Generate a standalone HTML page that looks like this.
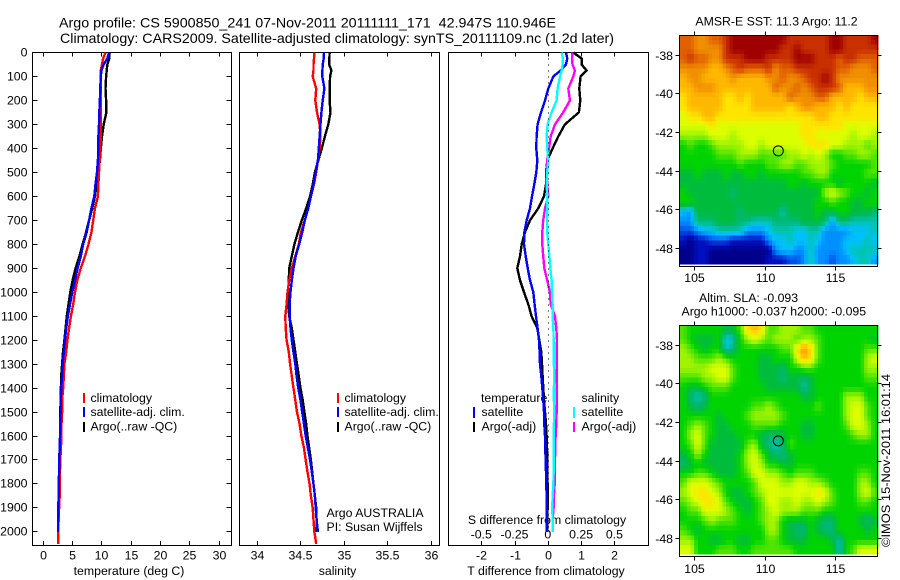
<!DOCTYPE html>
<html lang="en">
<head>
<meta charset="utf-8">
<title>Argo profile 5900850_241</title>
<style>
html,body{margin:0;padding:0;background:#fff;width:900px;height:580px;overflow:hidden}
svg{display:block;position:absolute;left:0;top:0}
text{font-family:"Liberation Sans",sans-serif;font-size:12.3px;fill:#000}
text.title{font-size:14px}
.frame{fill:none;stroke:#000;stroke-width:1;shape-rendering:crispEdges}
.crisp{shape-rendering:crispEdges}
</style>
</head>
<body>
<svg id="chart" width="900" height="580" viewBox="0 0 900 580" xmlns="http://www.w3.org/2000/svg">
  <text class="title" x="59" y="27.5" textLength="497" lengthAdjust="spacingAndGlyphs">Argo profile: CS 5900850_241 07-Nov-2011 20111111_171&#160; 42.947S 110.946E</text>
  <text class="title" x="60" y="43" textLength="554" lengthAdjust="spacingAndGlyphs">Climatology: CARS2009. Satellite-adjusted climatology: synTS_20111109.nc (1.2d later)</text>

  <g id="maps"></g>
  <g id="axes"></g>

  <rect class="frame" x="32.5" y="52.5" width="199" height="493"/>
  <rect class="frame" x="239.5" y="52.5" width="200" height="493"/>
  <rect class="frame" x="448.5" y="52.5" width="200" height="493"/>
  <rect class="frame" x="679.5" y="35.5" width="198" height="231"/>
  <rect class="frame" x="679.5" y="325.5" width="198" height="231"/>

  <text x="129" y="575" text-anchor="middle">temperature (deg C)</text>
  <text x="337.5" y="575" text-anchor="middle">salinity</text>
  <text x="546" y="575" text-anchor="middle">T difference from climatology</text>
  <text x="547" y="524" text-anchor="middle">S difference from climatology</text>

  <g>
    <rect class="crisp" x="83" y="393" width="2" height="10" fill="#f00"/>
    <rect class="crisp" x="83" y="407" width="2" height="10" fill="#00f"/>
    <rect class="crisp" x="83" y="422" width="2" height="10" fill="#000"/>
    <text x="90.5" y="402">climatology</text>
    <text x="90.5" y="416">satellite-adj. clim.</text>
    <text x="90.5" y="430.5">Argo(..raw -QC)</text>
  </g>
  <g>
    <rect class="crisp" x="337" y="393" width="2" height="10" fill="#f00"/>
    <rect class="crisp" x="337" y="407" width="2" height="10" fill="#00f"/>
    <rect class="crisp" x="337" y="422" width="2" height="10" fill="#000"/>
    <text x="344.5" y="402">climatology</text>
    <text x="344.5" y="416">satellite-adj. clim.</text>
    <text x="344.5" y="430.5">Argo(..raw -QC)</text>
    <text x="326.5" y="517">Argo AUSTRALIA</text>
    <text x="326.5" y="531">PI: Susan Wijffels</text>
  </g>
  <g>
    <text x="481" y="402">temperature</text>
    <rect class="crisp" x="473" y="407" width="2" height="11" fill="#00f"/>
    <text x="481.5" y="416">satellite</text>
    <rect class="crisp" x="473" y="422" width="2" height="10" fill="#000"/>
    <text x="481.5" y="430.5">Argo(-adj)</text>
    <text x="581.5" y="402">salinity</text>
    <rect class="crisp" x="573" y="407" width="2" height="11" fill="#0ff"/>
    <text x="581.5" y="416">satellite</text>
    <rect class="crisp" x="573" y="422" width="2" height="10" fill="#f0f"/>
    <text x="581.5" y="430.5">Argo(-adj)</text>
  </g>

  <text x="776.5" y="25.5" text-anchor="middle">AMSR-E SST: 11.3 Argo: 11.2</text>
  <text x="699" y="302">Altim. SLA: -0.093</text>
  <text x="681.5" y="315.5">Argo h1000: -0.037 h2000: -0.095</text>
  <text transform="translate(890,547) rotate(-90)" textLength="173" lengthAdjust="spacingAndGlyphs">©IMOS 15-Nov-2011 16:01:14</text>

  <g id="series"></g>
</svg>

<script>
// ---- profile data ----
const depths = [0,25,50,75,100,150,200,250,300,350,400,450,500,550,600,650,700,750,800,850,900,950,1000,1050,1100,1150,1200,1250,1300,1350,1400,1450,1500,1550,1600,1650,1700,1750,1800,1850,1900,1950,2000,2050];

const tempClim = [10.6,10.2,10,9.8,9.8,9.8,9.8,9.8,9.8,9.8,9.7,9.6,9.5,9.4,9.3,8.8,8.5,8.2,7.7,7.1,6.4,5.8,5.4,5.1,4.7,4.4,4.1,3.9,3.6,3.5,3.4,3.2,3.2,3.1,3.1,3.0,2.9,2.85,2.85,2.8,2.7,2.6,2.55,2.55];
const tempSat = [11.2,10.9,10.3,9.9,9.8,9.7,9.65,9.55,9.5,9.4,9.4,9.3,9.15,8.9,8.7,8.2,7.8,7.4,6.8,6.4,5.85,5.4,4.95,4.55,4.2,3.9,3.7,3.5,3.3,3.2,3.05,3,2.95,2.9,2.85,2.8,2.7,2.7,2.6,2.6,2.55,2.5,2.5];
const tempArgo = [11.3,11.25,10.9,10.8,10.7,10.6,10.7,10.75,10.3,10,9.8,9.65,9.4,9.1,8.8,8.35,7.8,7.3,6.7,6.15,5.5,5,4.6,4.3,4,3.8,3.6,3.35,3.2,3.05,3,2.95,2.9,2.85,2.85,2.8,2.75,2.75,2.75,2.65,2.55,2.5,2.5];

const salClim = [34.66,34.655,34.65,34.65,34.64,34.68,34.67,34.69,34.72,34.73,34.72,34.70,34.68,34.655,34.62,34.59,34.55,34.505,34.48,34.44,34.40,34.37,34.35,34.34,34.325,34.33,34.34,34.365,34.38,34.40,34.42,34.44,34.46,34.49,34.51,34.54,34.56,34.58,34.605,34.62,34.64,34.65,34.66,34.68];
const salSat = [34.77,34.767,34.755,34.752,34.75,34.775,34.755,34.74,34.73,34.72,34.71,34.70,34.675,34.65,34.62,34.59,34.55,34.52,34.485,34.445,34.42,34.40,34.385,34.375,34.375,34.385,34.40,34.42,34.44,34.455,34.475,34.50,34.52,34.54,34.56,34.585,34.61,34.63,34.65,34.665,34.675,34.685,34.70];
const salArgo = [34.835,34.832,34.83,34.855,34.84,34.835,34.835,34.845,34.82,34.78,34.745,34.705,34.665,34.64,34.61,34.565,34.515,34.47,34.43,34.40,34.37,34.365,34.36,34.36,34.37,34.40,34.42,34.44,34.46,34.48,34.50,34.525,34.545,34.565,34.58,34.60,34.62,34.635,34.65,34.665,34.68,34.685,34.685];

const diffTSat = [0.53,0.57,0.53,0.37,0.15,0,-0.1,-0.22,-0.32,-0.35,-0.36,-0.33,-0.36,-0.42,-0.49,-0.55,-0.65,-0.72,-0.73,-0.68,-0.62,-0.55,-0.45,-0.41,-0.37,-0.32,-0.28,-0.26,-0.25,-0.21,-0.18,-0.15,-0.13,-0.12,-0.1,-0.09,-0.08,-0.07,-0.06,-0.05,-0.05,-0.05,-0.05];
const diffTArgo = [0.75,1.0,1.0,1.15,0.97,0.93,0.96,0.92,0.5,0.3,0.13,-0.03,-0.07,-0.07,-0.13,-0.3,-0.55,-0.7,-0.8,-0.85,-0.93,-0.85,-0.73,-0.6,-0.5,-0.33,-0.27,-0.21,-0.19,-0.17,-0.15,-0.13,-0.1,-0.07,-0.05,-0.04,-0.03,-0.03,-0.02,-0.02,-0.02,-0.03,-0.03];
const diffSSat = [0.1,0.11,0.108,0.1,0.088,0.07,0.062,0.025,-0.005,-0.012,-0.008,0,-0.008,-0.012,-0.008,-0.008,-0.01,-0.008,0,0.008,0.015,0.025,0.028,0.032,0.032,0.038,0.04,0.042,0.042,0.045,0.042,0.042,0.045,0.042,0.04,0.04,0.04,0.04,0.038,0.032,0.03,0.032,0.032];
const diffSArgo = [0.18,0.178,0.182,0.2,0.188,0.15,0.162,0.112,0.05,0.018,0.005,-0.008,-0.012,-0.008,0,-0.025,-0.038,-0.045,-0.045,-0.038,-0.03,-0.008,0.012,0.018,0.05,0.06,0.065,0.062,0.062,0.062,0.062,0.062,0.062,0.06,0.055,0.052,0.05,0.048,0.048,0.042,0.04,0.032,0.032];

// ---- tick labels ----
const depthTicks = [0,100,200,300,400,500,600,700,800,900,1000,1100,1200,1300,1400,1500,1600,1700,1800,1900,2000];
const tempTicks = [0,5,10,15,20,25,30];
const salTicks = [34,34.5,35,35.5,36];
const diffTTicks = [-2,-1,0,1,2];
const diffSTicks = [-0.5,-0.25,0,0.25,0.5];
const lonTicks = [105,110,115];
const latTicks = [-38,-40,-42,-44,-46,-48];

// ---- profile location ----
const argoLon = [110.946];
const argoLat = [-42.947];

// ---- gridded map values: colour level per 0.5-degree cell, north to south ----
const sstLevels = [
[15,15,14,14,15,15,16,17,17,17,17,17,17,17,17,16,16,16,16,16,16,17,17,16,16,16,16,17],
[15,15,14,14,14,14,16,17,17,17,17,17,17,17,16,16,17,16,16,16,16,17,17,16,16,16,16,16],
[15,16,15,15,14,14,16,16,16,17,17,17,16,16,16,16,17,17,17,16,16,16,15,16,16,15,15,15],
[14,14,14,14,13,13,14,15,16,15,15,15,16,14,15,15,16,16,16,16,16,16,15,15,14,14,14,15],
[13,14,14,13,13,13,13,14,13,13,13,13,14,14,15,14,14,15,16,16,17,16,14,14,14,14,14,14],
[13,13,14,14,14,13,13,13,13,13,13,13,13,15,14,14,15,14,15,16,16,16,15,13,13,13,14,14],
[12,13,13,13,13,13,12,12,13,12,13,13,13,13,13,15,14,14,14,15,15,13,13,13,13,12,13,13],
[12,13,13,13,13,13,12,12,12,12,13,13,13,13,13,12,13,14,14,13,13,13,12,13,12,12,12,12],
[11,12,12,13,13,12,12,12,12,12,12,12,12,12,12,12,12,12,12,13,13,12,12,12,12,12,12,12],
[11,11,11,11,12,11,11,11,11,11,11,11,11,11,11,11,11,12,12,12,12,12,12,11,11,11,11,11],
[10,10,10,10,11,11,11,10,11,11,11,11,11,11,11,11,11,12,12,11,11,11,11,11,10,11,11,10],
[8,9,8,8,9,10,10,10,10,11,11,10,11,11,11,11,11,11,12,12,12,11,11,10,10,10,9,10],
[8,8,8,8,8,9,9,9,10,10,10,9,9,9,9,10,10,11,10,11,10,8,8,9,9,10,10,9],
[8,8,8,8,8,8,8,8,9,8,8,8,9,9,10,10,9,9,10,10,10,9,8,8,8,8,8,9],
[7,7,8,7,7,7,8,7,7,8,8,7,8,8,8,8,8,9,9,10,10,8,8,8,8,8,9,9],
[7,7,7,7,7,7,7,7,7,7,7,7,7,7,7,8,8,7,8,8,8,8,7,8,8,8,8,7],
[8,7,7,7,7,7,7,6,7,7,7,7,7,7,7,7,7,7,7,7,10,11,10,9,8,8,7,8],
[8,8,7,7,7,7,7,7,7,7,7,7,7,7,7,7,7,7,7,8,8,9,8,8,7,7,8,8],
[4,3,7,7,7,7,7,7,6,7,7,7,7,7,5,7,7,7,7,8,7,7,8,8,7,7,7,6],
[3,3,6,6,6,7,7,7,6,6,5,5,5,6,6,6,6,7,7,7,6,3,6,6,5,5,5,5],
[2,2,3,4,4,5,5,5,5,3,3,3,4,5,5,5,4,4,5,5,3,3,3,3,4,4,4,5],
[1,0,1,1,2,2,2,1,1,1,1,1,3,4,4,5,4,4,5,4,3,3,3,4,4,4,5,4],
[0,0,1,1,0,0,0,0,0,0,0,0,0,3,4,4,3,3,5,3,3,3,3,4,5,5,5,5],
[0,0,1,1,0,0,0,0,0,0,0,0,1,1,1,2,2,3,5,3,3,2,3,3,4,5,5,3]
];

const slaLevels = [
[9,8,8,8,8,8,7,7,9,12,13,12,9,9,10,10,10,9,9,8,8,8,8,8,8,8,8,8],
[9,8,7,7,7,8,4,5,8,10,11,10,9,10,10,10,9,10,10,9,8,8,8,8,8,8,8,7],
[10,9,8,7,8,8,5,6,8,8,8,8,8,8,9,9,12,14,12,9,8,8,8,8,8,8,9,9],
[10,10,9,9,9,10,9,8,8,8,8,7,7,8,8,8,11,13,12,9,8,8,8,8,8,8,10,11],
[10,10,10,10,11,11,11,9,8,8,8,7,7,7,6,8,8,9,9,8,8,8,8,8,8,8,10,10],
[9,9,9,10,10,11,11,9,8,8,8,7,7,7,6,7,7,6,7,8,8,8,8,8,8,8,9,9],
[8,7,7,8,9,9,9,8,8,8,8,8,7,7,7,7,7,5,7,8,8,8,8,8,8,8,8,8],
[8,6,5,6,8,8,8,8,8,8,8,8,8,8,8,8,8,7,7,8,8,8,8,10,10,10,8,8],
[8,7,6,7,8,8,8,8,8,8,9,9,10,9,8,8,8,8,8,9,8,8,8,10,11,11,9,8],
[8,8,8,8,8,7,8,8,8,9,10,10,10,10,9,8,8,8,8,8,8,8,8,10,11,11,9,8],
[8,9,10,9,8,7,7,8,8,8,9,9,9,9,8,8,8,7,7,8,8,8,8,9,11,11,10,8],
[8,10,11,9,8,7,7,7,8,8,8,7,6,6,7,8,8,7,7,8,8,8,8,8,9,10,10,8],
[8,9,11,9,7,7,7,7,7,9,10,7,6,5,6,9,8,8,8,8,8,8,8,8,8,8,8,8],
[7,8,10,8,7,7,7,7,8,10,11,9,7,6,6,7,8,8,8,8,8,8,8,8,8,8,8,8],
[6,7,8,7,7,7,7,7,8,10,11,10,8,8,7,7,8,8,8,8,8,8,8,8,8,8,8,8],
[8,8,9,9,8,7,7,7,8,9,11,11,10,10,9,8,9,9,9,8,8,8,8,8,8,9,9,8],
[9,11,11,11,10,9,8,8,8,8,9,11,11,11,10,10,11,11,10,10,9,8,8,8,8,10,10,8],
[10,11,12,12,11,10,8,7,7,8,9,10,11,11,11,11,11,11,11,12,11,9,8,8,8,10,11,9],
[9,10,11,12,12,11,9,8,7,7,8,9,11,11,10,10,11,10,10,11,10,9,8,8,8,9,9,8],
[8,9,9,11,11,11,10,9,8,7,8,9,10,11,10,10,10,9,9,9,8,8,8,8,8,8,8,8],
[8,8,8,9,10,9,9,9,8,8,8,9,10,10,8,7,7,7,8,7,6,6,8,8,8,7,6,7],
[9,8,7,8,8,8,8,8,8,8,8,8,10,10,8,7,6,6,8,7,6,6,8,8,8,8,7,8],
[10,10,8,8,7,7,8,8,7,7,8,8,9,9,8,7,7,7,8,8,8,7,5,8,8,8,8,8],
[11,11,8,8,8,9,9,9,8,8,9,9,9,9,9,9,8,8,8,8,8,8,5,8,9,11,11,11]
];

const levelColours = ['#00008c','#0010c0','#0050e8','#0090ff','#00c0ff','#00c4b4','#00b874','#00bc3c','#00d400','#50e400','#a0f400','#dcff00','#ffe400','#ffb800','#f09000','#e06000','#c83000','#a00000'];

// ---- axis functions ----
const NS = 'http://www.w3.org/2000/svg';
const depthY = d => 52.5 + d * 0.2397;
const tempX = t => 43.3 + t * 5.867;
const salX = s => 257 + (s - 34) * 87;
const diffTX = t => 548.3 + t * 33.3;
const diffSX = s => 548.3 + s * 133.2;
const lonX = lon => 694.7 + (lon - 105) * 14.06;
const map1LatY = lat => 55 + (-38 - lat) * 19.37;
const map2LatY = lat => 345 + (-38 - lat) * 19.37;

function make(parent, tag, attrs, content) {
  const el = document.createElementNS(NS, tag);
  for (const k in attrs) el.setAttribute(k, attrs[k]);
  if (content !== undefined) el.textContent = content;
  parent.appendChild(el);
  return el;
}

const seriesGroup = document.getElementById('series');
const axesGroup = document.getElementById('axes');
const mapsGroup = document.getElementById('maps');

function drawProfile(values, xFn, colour, name) {
  const pts = values.map((v, i) => xFn(v).toFixed(1) + ',' + depthY(depths[i]).toFixed(1)).join(' ');
  const line = make(seriesGroup, 'polyline', {points: pts, fill: 'none', stroke: colour, 'stroke-width': 2.4, 'shape-rendering': 'crispEdges'});
  
  
}

// panel 1: temperature
drawProfile(tempArgo, tempX, '#000', 'temperature-argo-line');
drawProfile(tempClim, tempX, '#f00', 'temperature-climatology-line');
drawProfile(tempSat, tempX, '#00f', 'temperature-satellite-line');
// panel 2: salinity
drawProfile(salArgo, salX, '#000', 'salinity-argo-line');
drawProfile(salClim, salX, '#f00', 'salinity-climatology-line');
drawProfile(salSat, salX, '#00f', 'salinity-satellite-line');
// panel 3: differences
drawProfile(diffTArgo, diffTX, '#000', 't-difference-argo-line');
drawProfile(diffSArgo, diffSX, '#f0f', 's-difference-argo-line');
drawProfile(diffTSat, diffTX, '#00f', 't-difference-satellite-line');
drawProfile(diffSSat, diffSX, '#0ff', 's-difference-satellite-line');

const zeroLine = make(seriesGroup, 'line', {x1: diffTX(0), x2: diffTX(0), y1: 52.5, y2: depthY(2000), stroke: '#000', 'stroke-width': 1, 'stroke-dasharray': '1 5', 'shape-rendering': 'crispEdges'});



function tick(x1, y1, x2, y2, name) {
  const t = make(axesGroup, 'line', {x1: x1, y1: y1, x2: x2, y2: y2, stroke: '#000', 'stroke-width': 1, 'shape-rendering': 'crispEdges'});
  
  
}
function label(x, y, str, anchor, name) {
  const t = make(axesGroup, 'text', {x: x, y: y, 'text-anchor': anchor}, str);
  
  
}
const round = v => Math.round(v) + 0.5;

// depth axis
depthTicks.forEach(d => {
  const y = round(depthY(d) - 0.5);
  tick(32.5, y, 37.5, y, 'depth-tick-left');
  tick(226.5, y, 231.5, y, 'depth-tick-right');
  label(27.5, y + 4, String(d), 'end', 'depth-tick-label');
});
// temperature x axis
tempTicks.forEach(v => {
  const x = round(tempX(v) - 0.5);
  tick(x, 52.5, x, 56.5, 'temperature-tick-top');
  tick(x, 541, x, 545.5, 'temperature-tick-bottom');
  label(x, 559.5, String(v), 'middle', 'temperature-tick-label');
});
// salinity x axis
salTicks.forEach(v => {
  const x = round(salX(v) - 0.5);
  tick(x, 52.5, x, 56.5, 'salinity-tick-top');
  tick(x, 541, x, 545.5, 'salinity-tick-bottom');
  label(x, 559.5, String(v), 'middle', 'salinity-tick-label');
});
// difference x axes
diffTTicks.forEach(v => {
  const x = round(diffTX(v) - 0.5);
  tick(x, 52.5, x, 56.5, 't-difference-tick-top');
  tick(x, 541, x, 545.5, 't-difference-tick-bottom');
  label(x, 559.5, String(v), 'middle', 't-difference-tick-label');
});
diffSTicks.forEach(v => {
  label(diffSX(v) - 0.5, 538.5, String(v), 'middle', 's-difference-tick-label');
});

// maps: each array cell is shown as 2x2 quarter-degree pixels shaded from the neighbouring array values
function levelColour(level) {
  const i = Math.min(Math.floor(level), levelColours.length - 2);
  const f = level - i;
  const a = levelColours[i], b = levelColours[i + 1];
  const mix = p => {
    const ca = parseInt(a.substr(p, 2), 16), cb = parseInt(b.substr(p, 2), 16);
    return Math.round(ca + (cb - ca) * f);
  };
  return 'rgb(' + mix(1) + ',' + mix(3) + ',' + mix(5) + ')';
}
function sampleLevel(levels, u, v) {
  const rows = levels.length, cols = levels[0].length;
  const cu = Math.max(0, Math.min(cols - 1, u)), cv = Math.max(0, Math.min(rows - 1, v));
  const c0 = Math.floor(cu), r0 = Math.floor(cv);
  const c1 = Math.min(cols - 1, c0 + 1), r1 = Math.min(rows - 1, r0 + 1);
  const fu = cu - c0, fv = cv - r0;
  const top = levels[r0][c0] * (1 - fu) + levels[r0][c1] * fu;
  const bot = levels[r1][c0] * (1 - fu) + levels[r1][c1] * fu;
  return top * (1 - fv) + bot * fv;
}
function drawMap(levels, latY, topLat, name) {
  const cols = levels[0].length * 2, rows = levels.length * 2;
  const rowStep = 11.84 / rows;
  const lonLeft = 103.96;
  const colStep = 14.1 / cols;
  for (let r = 0; r < rows; r++) {
    for (let c = 0; c < cols; c++) {
      const level = sampleLevel(levels, (c + 0.5) / 2 - 0.5, (r + 0.5) / 2 - 0.5);
      const x0 = lonX(lonLeft + c * colStep);
      const x1 = lonX(lonLeft + (c + 1) * colStep);
      const y0 = latY(topLat - r * rowStep);
      const y1 = latY(topLat - (r + 1) * rowStep);
      const cell = make(mapsGroup, 'rect', {x: x0.toFixed(2), y: y0.toFixed(2), width: (x1 - x0).toFixed(2), height: (y1 - y0).toFixed(2), fill: levelColour(level), 'shape-rendering': 'crispEdges'});
      
      
    }
  }
}
drawMap(sstLevels, map1LatY, -36.97, 'sst-map');
drawMap(slaLevels, map2LatY, -36.97, 'sla-map');

function mapAxes(latY, top, bottom, labelY, name) {
  lonTicks.forEach(v => {
    const x = round(lonX(v) - 0.5);
    tick(x, top - 4, x, top, name + '-lon-tick-top');
    tick(x, bottom, x, bottom + 4, name + '-lon-tick-bottom');
    label(x, labelY, String(v), 'middle', name + '-lon-tick-label');
  });
  latTicks.forEach(v => {
    const y = round(latY(v) - 0.5);
    tick(675.5, y, 679.5, y, name + '-lat-tick-left');
    tick(877.5, y, 881.5, y, name + '-lat-tick-right');
    label(673, y + 4.5, String(v), 'end', name + '-lat-tick-label');
  });
  const m = make(axesGroup, 'circle', {cx: lonX(argoLon[0]), cy: latY(argoLat[0]), r: 5, fill: 'none', stroke: '#000', 'stroke-width': 1});
  
  
}
mapAxes(map1LatY, 35.5, 266.5, 282, 'sst-map');
mapAxes(map2LatY, 325.5, 556.5, 573, 'sla-map');
</script>
</body>
</html>
